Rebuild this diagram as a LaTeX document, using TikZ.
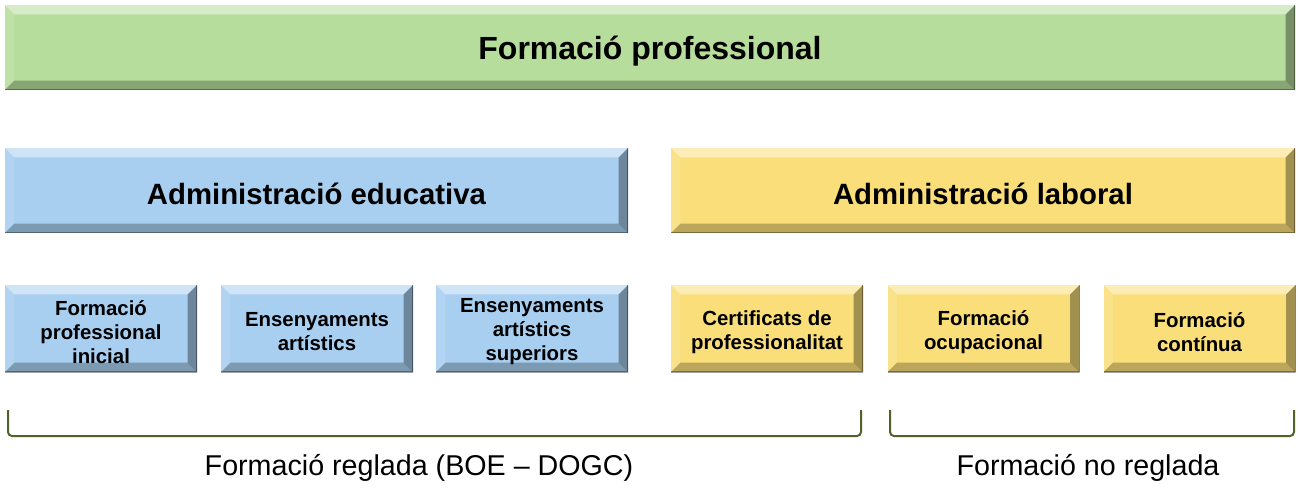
\documentclass[tikz,border=0pt]{standalone}
\usepackage{fontspec}
\setmainfont{Liberation Sans}
\def\u{0.75pt}
\definecolor{gbase}{RGB}{182,221,155}
\definecolor{bbase}{RGB}{168,206,240}
\definecolor{ybase}{RGB}{250,222,122}
\definecolor{brk}{RGB}{79,98,40}
\tikzset{
  bev/.style n args={4}{draw=none, fill=#1, inner sep=0pt,
    label={[inner sep=0pt, align=center, yshift=-2.6pt, font=\bfseries\fontsize{#2}{#3}\selectfont]center:{#4}},
    path picture={
      \def\b{7pt}
      \fill[white,opacity=.45] (path picture bounding box.north west) -- (path picture bounding box.north east)
        -- ([xshift=-\b,yshift=-\b]path picture bounding box.north east) -- ([xshift=\b,yshift=-\b]path picture bounding box.north west) -- cycle;
      \fill[white,opacity=.12] (path picture bounding box.north west) -- ([xshift=\b,yshift=-\b]path picture bounding box.north west)
        -- ([xshift=\b,yshift=\b]path picture bounding box.south west) -- (path picture bounding box.south west) -- cycle;
      \fill[black,opacity=.25] (path picture bounding box.south west) -- ([xshift=\b,yshift=\b]path picture bounding box.south west)
        -- ([xshift=-\b,yshift=\b]path picture bounding box.south east) -- (path picture bounding box.south east) -- cycle;
      \fill[black,opacity=.35] (path picture bounding box.north east) -- ([xshift=-\b,yshift=-\b]path picture bounding box.north east)
        -- ([xshift=-\b,yshift=\b]path picture bounding box.south east) -- (path picture bounding box.south east) -- cycle;
      \draw[black,opacity=.35,line width=1.2pt] (path picture bounding box.south west) -- (path picture bounding box.south east) -- (path picture bounding box.north east);
    }},
  bigbox/.style={minimum height=63.75pt},
  smallbox/.style={minimum width=144pt, minimum height=65.25pt},
  brace/.style={draw=brk, line width=1.5pt, rounded corners=3pt},
  lbl/.style={font=\fontsize{21.5}{25}\selectfont, inner sep=0pt}
}
\begin{document}
\begin{tikzpicture}[x=\u, y=-\u]
\useasboundingbox (0,0) rectangle (1298,488);
\node[bev={gbase}{24}{28}{Formació professional}, bigbox, minimum width=967.5pt] (fp) at (650,47.5) {};
\node[bev={bbase}{22}{26}{Administració educativa}, bigbox, minimum width=467.25pt] (ae) at (316.5,190.5) {};
\node[bev={ybase}{22}{26}{Administració laboral}, bigbox, minimum width=468pt] (al) at (983,190.5) {};

\node[bev={bbase}{15.3}{18}{Formació\\professional\\inicial}, smallbox] (fpi) at (101,328.5) {};
\node[bev={bbase}{15.3}{18}{Ensenyaments\\artístics}, smallbox] (ea) at (317,328.5) {};
\node[bev={bbase}{15.3}{18}{Ensenyaments\\artístics\\superiors}, smallbox] (eas) at (532,328.5) {};
\node[bev={ybase}{15.3}{18}{Certificats de\\professionalitat}, smallbox] (cp) at (767,328.5) {};
\node[bev={ybase}{15.3}{18}{Formació\\ocupacional}, smallbox] (fo) at (983.5,328.5) {};
\node[bev={ybase}{15.3}{18}{Formació\\contínua}, smallbox] (fc) at (1199.5,328.5) {};

\coordinate (b1a) at (8,410);
\coordinate (b1b) at (8,436);
\coordinate (b1c) at (861,436);
\coordinate (b1d) at (861,410);
\coordinate (b2a) at (890,410);
\coordinate (b2b) at (890,436);
\coordinate (b2c) at (1294,436);
\coordinate (b2d) at (1294,410);
\draw[brace] (b1a) -- (b1b) -- (b1c) -- (b1d);
\draw[brace] (b2a) -- (b2b) -- (b2c) -- (b2d);

\node[lbl] (fr) at (419,468) {Formació reglada (BOE – DOGC)};
\node[lbl] (fnr) at (1088,468) {Formació no reglada};
\end{tikzpicture}
\end{document}
